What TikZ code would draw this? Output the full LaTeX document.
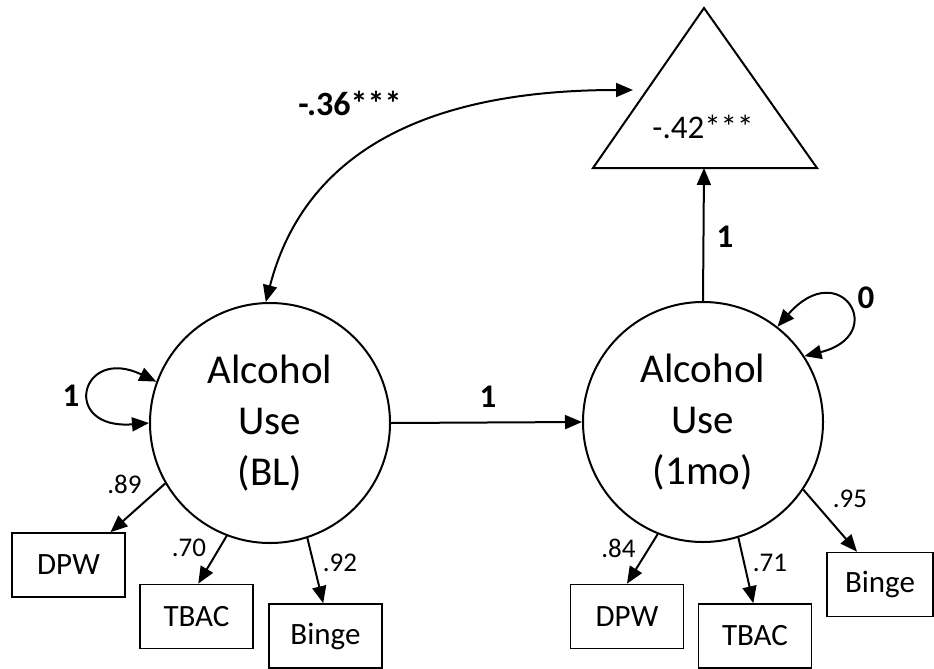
\documentclass[tikz,border=0pt]{standalone}
\usepackage{fontspec}
\setmainfont{Carlito}
\usetikzlibrary{arrows.meta}

\begin{document}
\begin{tikzpicture}[x=1pt, y=-1pt, line width=2pt,
	>={Triangle[length=17pt,width=14pt]},
	latent/.style={draw, circle, minimum size=240pt, inner sep=0pt, align=center, font=\fontsize{41}{51}\selectfont},
	indicator/.style={draw, rectangle, line width=1.6pt, minimum width=113pt, minimum height=64pt, inner sep=0pt, font=\fontsize{31}{36}\selectfont},
	loading/.style={font=\fontsize{27}{32}\selectfont},
	coef/.style={font=\bfseries\fontsize{33}{38}\selectfont}]
				\useasboundingbox (0,0) rectangle (934,669);

				% Latent factors
				\node[latent] (BL) at (270,423) {Alcohol\\Use\\(BL)};
				\node[latent] (AU1) at (703,422) {Alcohol\\Use\\(1mo)};

				% Mean triangle
				\coordinate (triL) at (593,168);
				\coordinate (triT) at (704,8);
				\coordinate (triR) at (817,168);
				\coordinate (tribase) at (704,168);
				\coordinate (covend) at (633,90);
				\draw (triL) -- (triT) -- (triR) -- cycle;
				\node[font=\fontsize{33}{38}\selectfont] (mean) at (703,127) {-.42***};

				% Indicators
				\node[indicator] (DPW1) at (68.5,565) {DPW};
				\node[indicator] (TBAC1) at (196.5,616.5) {TBAC};
				\node[indicator] (Binge1) at (325.5,636) {Binge};
				\node[indicator] (DPW2) at (627,616.5) {DPW};
				\node[indicator] (TBAC2) at (755,636) {TBAC};
				\node[indicator, minimum width=106pt] (Binge2) at (880,584.5) {Binge};

				% Structural paths
				\draw[->] (BL.east) -- (AU1.west);
				\draw[->] (AU1.north) -- (tribase);
				\draw[<->] (BL.92) .. controls (300,170) and (400,90) .. (covend);

				% Variances
				\draw[<->] (BL.160) .. controls (80,345) and (60,430) .. (BL.180);
				\draw[<->] (AU1.52) .. controls (840,255) and (890,335) .. (AU1.33);

				% Loadings
				\draw[->] (BL.210) -- (DPW1.38);
				\draw[->] (BL.249) -- (TBAC1.87);
				\draw[->] (BL.288) -- (Binge1.94);
				\draw[->] (AU1.248) -- (DPW2.north);
				\draw[->] (AU1.287) -- (TBAC2.93);
				\draw[->] (AU1.326) -- (Binge2.125);

				% Coefficients
				\node[coef] (c1) at (488,397) {1};
				\node[coef] (c2) at (725,237) {1};
				\node[coef] (c3) at (71,396) {1};
				\node[coef] (c4) at (866,298) {0};
				\node[coef, font=\bfseries\fontsize{34}{38}\selectfont] (c5) at (350,103) {-.36***};
				\node[loading] (l1) at (124.5,484.5) {.89};
				\node[loading] (l2) at (189,548) {.70};
				\node[loading] (l3) at (340,563) {.92};
				\node[loading] (l4) at (618.5,548) {.84};
				\node[loading] (l5) at (770,563) {.71};
				\node[loading] (l6) at (850,499) {.95};
			\end{tikzpicture}
\end{document}
